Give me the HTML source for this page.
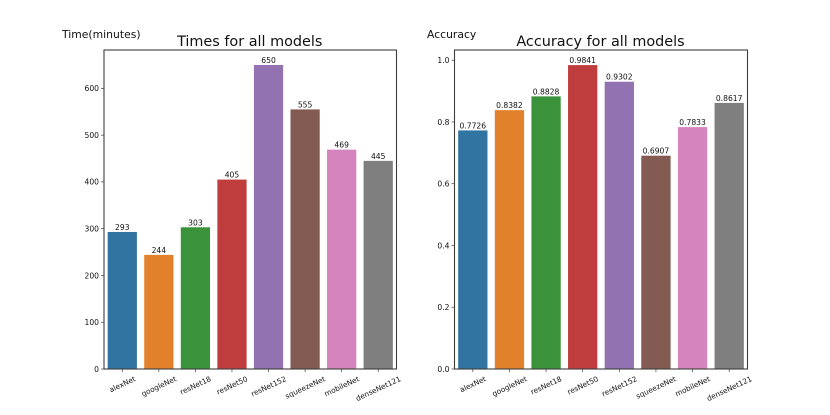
<!DOCTYPE html>
<html>
<head>
<meta charset="utf-8">
<style>
html,body{margin:0;padding:0;background:#fff;}
svg{display:block;filter:blur(0.3px);}
text{font-family:"DejaVu Sans","Liberation Sans",sans-serif;fill:#111;}
</style>
</head>
<body>
<svg id="chart" width="830" height="415" viewBox="0 0 830 415" xmlns="http://www.w3.org/2000/svg"></svg>
<script>
const models = ["alexNet","googleNet","resNet18","resNet50","resNet152","squeezeNet","mobileNet","denseNet121"];
const timeValues = [293,244,303,405,650,555,469,445];
const accuracyValues = [0.7726,0.8382,0.8828,0.9841,0.9302,0.6907,0.7833,0.8617];
const accuracyLabels = ["0.7726","0.8382","0.8828","0.9841","0.9302","0.6907","0.7833","0.8617"];
const timeTicks = [0,100,200,300,400,500,600];
const accuracyTicks = [0,0.2,0.4,0.6,0.8,1.0];
const accuracyTickLabels = ["0.0","0.2","0.4","0.6","0.8","1.0"];
const timeYMax = 682;
const accuracyYMax = 1.033;
const barColors = ["#3274a1","#e1812c","#3a923a","#c03d3e","#9372b2","#845b53","#d684bd","#7f7f7f"];

const svg = document.getElementById('chart');
const NS = 'http://www.w3.org/2000/svg';
function make(tag, attrs, parent, text){
  const el = document.createElementNS(NS, tag);
  for (const k in attrs) el.setAttribute(k, attrs[k]);
  if (text !== undefined) el.textContent = text;
  parent.appendChild(el);
  return el;
}
function drawPanel(cfg){
  const g = make('g', {}, svg);
  
  
  const top = 50, bottom = 369;
  const band = (cfg.right - cfg.left) / models.length;
  const xCenter = i => cfg.left + band * (i + 0.5);
  const y = v => bottom - (v / cfg.yMax) * (bottom - top);

  cfg.values.forEach((v, i) => {
    const bar = make('rect', {
      x: xCenter(i) - band * 0.4, y: y(v),
      width: band * 0.8, height: bottom - y(v),
      fill: barColors[i]
    }, g);
    
    
    const label = make('text', {
      x: xCenter(i), y: y(v) - 2, 'text-anchor': 'middle', 'font-size': 7.6
    }, g, cfg.valueLabels[i]);
    
    
  });

  const frame = make('rect', {
    x: cfg.left, y: top, width: cfg.right - cfg.left, height: bottom - top,
    fill: 'none', stroke: '#3d3d3d', 'stroke-width': 1.1
  }, g);
  
  

  cfg.ticks.forEach((t, i) => {
    const tick = make('line', {
      x1: cfg.left - 3, x2: cfg.left, y1: y(t), y2: y(t),
      stroke: '#3d3d3d', 'stroke-width': 0.7
    }, g);
    
    
    const label = make('text', {
      x: cfg.left - 5, y: y(t) + 2.8, 'text-anchor': 'end', 'font-size': 7.6
    }, g, cfg.tickLabels[i]);
    
    
  });

  const angle = 25 * Math.PI / 180;
  const labelHeight = 7;
  const labelTop = 375;
  models.forEach((m, i) => {
    const cx = xCenter(i);
    const tick = make('line', {
      x1: cx, x2: cx, y1: bottom, y2: bottom + 3,
      stroke: '#3d3d3d', 'stroke-width': 0.7
    }, g);
    
    
    const label = make('text', {
      x: 0, y: 2.7, 'text-anchor': 'middle', 'font-size': 7.3
    }, g, m);
    
    
    const length = label.getComputedTextLength();
    const centerY = labelTop + (length * Math.sin(angle) + labelHeight * Math.cos(angle)) / 2;
    label.setAttribute('transform', 'translate(' + cx + ' ' + centerY + ') rotate(-25)');
  });

  const title = make('text', {
    x: (cfg.left + cfg.right) / 2 - 0.5, y: 46, 'text-anchor': 'middle', 'font-size': 14.4
  }, g, cfg.title);
  
  

  const yTitle = make('text', {
    x: cfg.yTitleX, y: 38, 'font-size': 10.8
  }, g, cfg.yTitle);
  
  
}
drawPanel({
  key: 'time', left: 104, right: 396.5, yMax: timeYMax,
  values: timeValues, valueLabels: timeValues.map(String),
  ticks: timeTicks, tickLabels: timeTicks.map(String),
  title: 'Times for all models', yTitle: 'Time(minutes)', yTitleX: 62
});
drawPanel({
  key: 'accuracy', left: 454.5, right: 747.5, yMax: accuracyYMax,
  values: accuracyValues, valueLabels: accuracyLabels,
  ticks: accuracyTicks, tickLabels: accuracyTickLabels,
  title: 'Accuracy for all models', yTitle: 'Accuracy', yTitleX: 427
});
</script>
</body>
</html>
